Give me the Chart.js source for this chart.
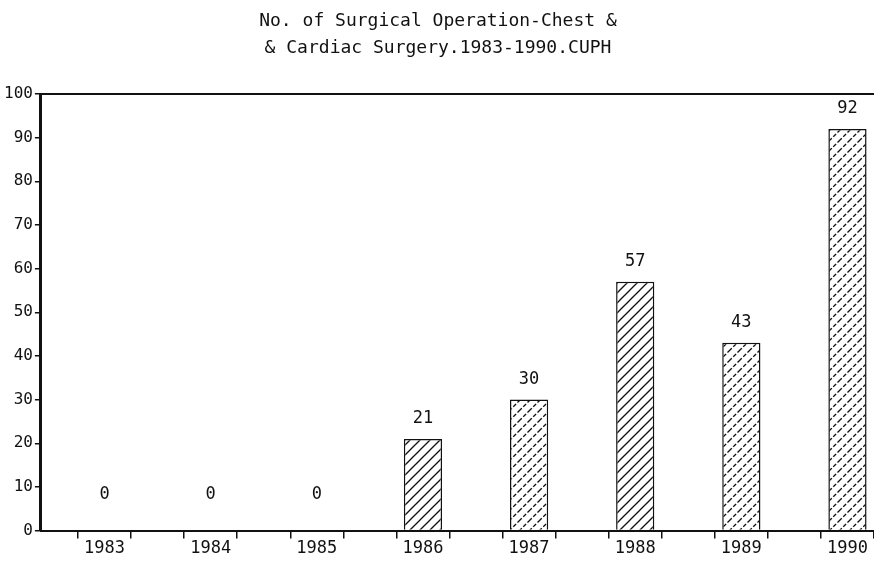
<!DOCTYPE html>
<html>
<head>
<meta charset="utf-8">
<script src="https://cdn.jsdelivr.net/npm/chart.js@4.4.1/dist/chart.umd.min.js"></script>
<style>
  html, body { margin: 0; padding: 0; background: #fff; overflow: hidden; }
  #wrap { width: 874px; height: 561px; }
</style>
</head>
<body>
<div id="wrap"><canvas id="opChart" width="874" height="561"></canvas></div>
<script>
// data
const years = [1983, 1984, 1985, 1986, 1987, 1988, 1989, 1990];
const operations = [0, 0, 0, 21, 30, 57, 43, 92];
const yTicks = [0, 10, 20, 30, 40, 50, 60, 70, 80, 90, 100];
const titleLines = ["No. of Surgical Operation-Chest &", "& Cardiac Surgery.1983-1990.CUPH"];

const FONT = "'DejaVu Sans Mono', 'Liberation Mono', monospace";

// hatch fill ///
function makeHatch(dashed) {
    const s = 10;
    const c = document.createElement("canvas");
    c.width = s; c.height = s;
    const g = c.getContext("2d");
    g.fillStyle = "#fff";
    g.fillRect(0, 0, s, s);
    g.strokeStyle = "#111";
    g.lineWidth = 1.3;
    if (dashed) g.setLineDash([4, 2]);
    g.beginPath();
    g.moveTo(-1, s + 1); g.lineTo(s + 1, -1);
    g.stroke();
    g.setLineDash([]);
    g.beginPath();
    g.moveTo(-1, 1); g.lineTo(1, -1);
    g.moveTo(s - 1, s + 1); g.lineTo(s + 1, s - 1);
    g.stroke();
    return g.createPattern(c, "repeat");
}
const solidHatch = makeHatch(false);
const dotHatch = makeHatch(true);
const fills = years.map(y => (y === 1987 || y >= 1989) ? dotHatch : solidHatch);

// values over bars
const barValues = {
    id: "barValues",
    afterDatasetsDraw(chart) {
        const ctx = chart.ctx;
        const zeroY = chart.scales.y.getPixelForValue(0);
        ctx.save();
        ctx.font = "17px " + FONT;
        ctx.fillStyle = "#111";
        ctx.textAlign = "center";
        ctx.textBaseline = "bottom";
        chart.getDatasetMeta(0).data.forEach((bar, i) => {
            const y = Math.min(bar.y - 12, zeroY - 28);
            ctx.fillText(String(operations[i]), bar.x, y);
        });
        ctx.restore();
    }
};

// frame line across the top
const topLine = {
    id: "topLine",
    afterDraw(chart) {
        const a = chart.chartArea;
        const ctx = chart.ctx;
        ctx.save();
        ctx.strokeStyle = "#111";
        ctx.lineWidth = 2;
        ctx.beginPath();
        ctx.moveTo(a.left, a.top);
        ctx.lineTo(a.right, a.top);
        ctx.stroke();
        ctx.restore();
    }
};

const ctx = document.getElementById("opChart").getContext("2d");
new Chart(ctx, {
    type: "bar",
    data: {
        datasets: [{
            data: years.map((y, i) => ({ x: y, y: operations[i] })),
            backgroundColor: fills,
            borderColor: "#111",
            borderWidth: 1.5,
            barPercentage: 0.72,
            categoryPercentage: 1,
        }],
    },
    options: {
        responsive: false,
        animation: false,
        layout: { padding: { top: 8, right: 0, left: 2, bottom: 2 } },
        plugins: {
            legend: { display: false },
            tooltip: { enabled: false },
            title: {
                display: true,
                text: titleLines,
                color: "#111",
                font: { family: FONT, size: 18, weight: "normal", lineHeight: 1.5 },
                padding: { top: 0, bottom: 32 },
            },
        },
        scales: {
            x: {
                type: "linear",
                min: 1982.4,
                max: 1990.25,
                offset: false,
                grid: { drawOnChartArea: false, color: "#111", tickLength: 8, lineWidth: 1.5 },
                border: { color: "#111", width: 2 },
                ticks: {
                    stepSize: 0.5,
                    includeBounds: false,
                    autoSkip: false,
                    maxRotation: 0,
                    padding: 0,
                    color: "#111",
                    font: { family: FONT, size: 17 },
                    callback: v => Number.isInteger(v) ? String(v) : "",
                },
            },
            y: {
                min: 0,
                max: 100,
                afterBuildTicks: axis => { axis.ticks = yTicks.map(v => ({ value: v })); },
                grid: { drawOnChartArea: false, color: "#111", tickLength: 6, lineWidth: 1.5 },
                border: { color: "#111", width: 3 },
                ticks: {
                    padding: 2,
                    color: "#111",
                    font: { family: FONT, size: 16 },
                },
            },
        },
    },
    plugins: [barValues, topLine],
});
</script>
</body>
</html>
